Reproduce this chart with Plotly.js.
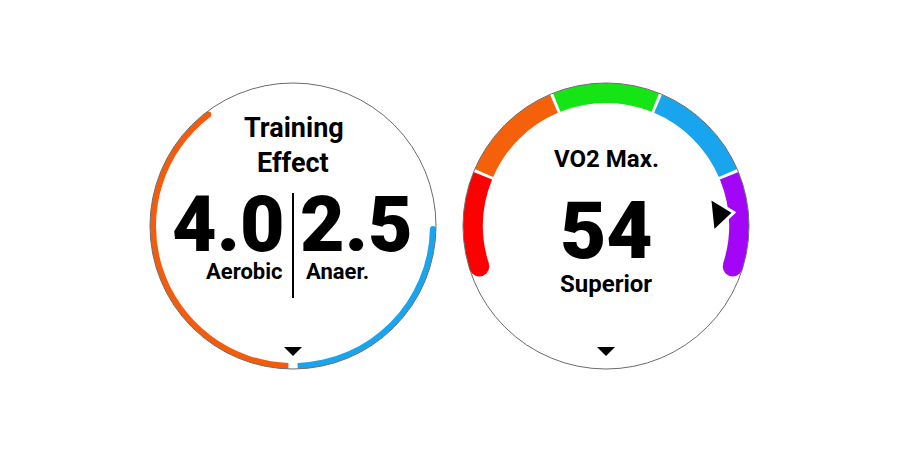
<!DOCTYPE html>
<html><head><meta charset="utf-8">
<script src="https://cdn.plot.ly/plotly-3.0.1.min.js"></script>
<style>html,body{margin:0;padding:0;background:#fff}#chart{width:900px;height:450px}</style>
</head><body><div id="chart"></div>
<script>
// ---- data ----
const teTitle = ['Training', 'Effect'];
const teLabels = ['Aerobic', 'Anaer.'];
const teValues = [4.0, 2.5];
const teMax = 5;
const teColors = ['#f45b0c', '#18a5ee'];

const vo2Title = 'VO2 Max.';
const vo2Value = 54;
const vo2Zones = ['Poor', 'Fair', 'Good', 'Excellent', 'Superior'];
const vo2Bounds = [30, 37, 42, 46, 51, 59];
const vo2Colors = ['#fe0000', '#f5600a', '#15e515', '#18a5ee', '#a306f6'];

// ---- geometry (pixels of the 900x450 page) ----
const W = 900, H = 450;
const R = 143;                 // dial radius
const L = {cx: 293, cy: 226};  // left dial centre
const Rt = {cx: 606, cy: 226}; // right dial centre
const px = x => x / W, py = y => 1 - y / H;
const dom = c => ({x: [px(c.cx - R), px(c.cx + R)], y: [py(c.cy + R), py(c.cy - R)]});

const FONT = 'Roboto, "Open Sans", sans-serif';
const INK = '#000000';

const traces = [];

// left dial: two half-circle gauges
const thickL = 6 / R, capL = 1.2, gapL = 1.9;
const aeroEnd = 180 + teValues[0] / teMax * 180 - capL, aeroStart = 180 + gapL;
const anaStart = 180 - teValues[1] / teMax * 180 + capL, anaEnd = 180 - gapL;
traces.push({
  type: 'barpolar', subplot: 'polar',
  r: [thickL, thickL], base: [1 - thickL, 1 - thickL],
  theta: [(aeroStart + aeroEnd) / 2, (anaStart + anaEnd) / 2],
  width: [aeroEnd - aeroStart, anaEnd - anaStart],
  marker: {color: teColors, line: {width: 0}}, hoverinfo: 'skip'
});
traces.push({
  type: 'scatterpolar', subplot: 'polar', mode: 'markers',
  r: [1 - thickL / 2, 1 - thickL / 2], theta: [aeroEnd, anaStart],
  marker: {symbol: 'circle', size: 6, color: teColors, line: {width: 0}}, hoverinfo: 'skip'
});

// right dial: five zone gauge
const thickR = 20 / R, capR = 4.3, gapR = 1.3;
const gStart = -112, gEnd = 112;
const zw = (gEnd - gStart) / vo2Zones.length;
const zTheta = [], zWidth = [];
vo2Zones.forEach((z, k) => {
  const a = gStart + k * zw + (k === 0 ? capR : gapR / 2);
  const b = gStart + (k + 1) * zw - (k === vo2Zones.length - 1 ? capR : gapR / 2);
  zTheta.push((a + b) / 2); zWidth.push(b - a);
});
traces.push({
  type: 'barpolar', subplot: 'polar2',
  r: vo2Zones.map(() => thickR), base: vo2Zones.map(() => 1 - thickR),
  theta: zTheta, width: zWidth,
  marker: {color: vo2Colors, line: {width: 0}}, hoverinfo: 'skip'
});
traces.push({
  type: 'scatterpolar', subplot: 'polar2', mode: 'markers',
  r: [1 - thickR / 2, 1 - thickR / 2], theta: [gStart + capR, gEnd - capR],
  marker: {symbol: 'circle', size: 20, color: [vo2Colors[0], vo2Colors[vo2Colors.length - 1]], line: {width: 0}},
  hoverinfo: 'skip'
});
let zi = 0;
for (let k = 0; k < vo2Zones.length; k++) if (vo2Value >= vo2Bounds[k]) zi = k;
const frac = (vo2Value - vo2Bounds[zi]) / (vo2Bounds[zi + 1] - vo2Bounds[zi]);
const ptrTheta = gStart + (zi + frac) * zw;
traces.push({
  type: 'scatterpolar', subplot: 'polar2', mode: 'markers',
  r: [0.794], theta: [ptrTheta],
  marker: {symbol: 'triangle-right', size: 30, angle: ptrTheta - 90, color: '#000', line: {color: '#fff', width: 3}},
  hoverinfo: 'skip'
});

// ---- text ----
const ann = (text, x, y, size, xanchor, weight) => ({
  text, x: px(x), y: py(y), xref: 'paper', yref: 'paper', showarrow: false,
  xanchor: xanchor || 'center', yanchor: 'middle',
  font: {family: FONT, size, color: INK, weight: weight || 'bold'}
});
const annotations = [
  ann(teTitle[0], 294, 128, 27),
  ann(teTitle[1], 293, 163, 27),
  ann(teValues[0].toFixed(1), 228, 225, 77, 'center', 900),
  ann(teValues[1].toFixed(1), 356, 225, 77, 'center', 900),
  ann(teLabels[0], 284, 271, 22, 'right'),
  ann(teLabels[1], 304, 271, 22, 'left'),
  ann(vo2Title, 606, 159, 24),
  ann(String(vo2Value), 606, 231, 80, 'center', 900),
  ann(vo2Zones[zi], 606, 284, 24)
];

const tri = (cx) => ({
  type: 'path', xref: 'paper', yref: 'paper',
  path: `M${px(cx - 9)},${py(347)} L${px(cx + 9)},${py(347)} L${px(cx)},${py(356)} Z`,
  fillcolor: '#000', line: {width: 0}
});
const shapes = [
  {type: 'line', xref: 'paper', yref: 'paper', x0: px(293), x1: px(293), y0: py(193), y1: py(298),
   line: {color: '#000', width: 2}},
  tri(L.cx), tri(Rt.cx)
];

const angular = {direction: 'clockwise', rotation: 90, thetaunit: 'degrees',
  showline: true, linecolor: '#6b6b6b', linewidth: 1, showgrid: false, showticklabels: false, ticks: ''};
const radial = {range: [0, 1], visible: false, showgrid: false};

const layout = {
  width: W, height: H, margin: {l: 0, r: 0, t: 0, b: 0},
  paper_bgcolor: '#fff', showlegend: false,
  polar: {domain: dom(L), bgcolor: '#fff', radialaxis: radial, angularaxis: angular},
  polar2: {domain: dom(Rt), bgcolor: '#fff', radialaxis: radial, angularaxis: angular},
  annotations, shapes
};
Plotly.newPlot('chart', traces, layout, {displayModeBar: false, staticPlot: true});
</script></body></html>
